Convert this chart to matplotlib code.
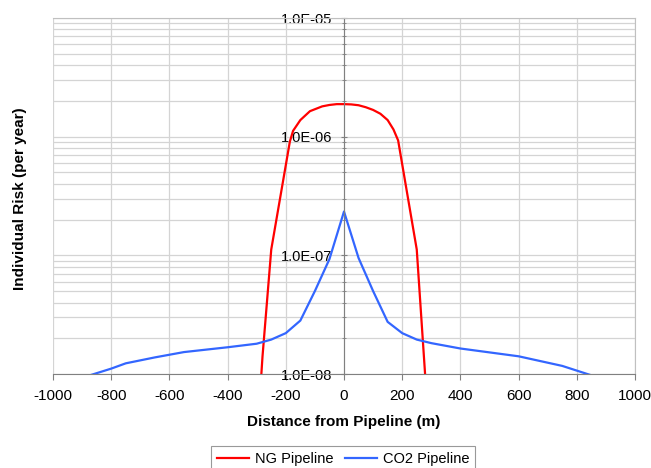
import numpy as np
import matplotlib
matplotlib.use("Agg")
from matplotlib import pyplot as plt
from matplotlib.ticker import LogLocator, FuncFormatter, NullFormatter, MultipleLocator

plt.rcParams['font.family'] = ['Liberation Sans', 'DejaVu Sans']
plt.rcParams['axes.unicode_minus'] = False

# NG pipeline risk profile (per year) vs distance (m)
ng_x = [-300, -280, -250, -186, -175, -150, -117, -75, -50, -25, 0,
        25, 50, 75, 100, 125, 150, 170, 186, 250, 280, 300]
ng_risk = [2.5e-9, 1.41e-8, 1.12e-7, 9.1e-7, 1.12e-6, 1.38e-6, 1.64e-6,
           1.80e-6, 1.85e-6, 1.88e-6, 1.88e-6,
           1.87e-6, 1.84e-6, 1.77e-6, 1.68e-6, 1.56e-6, 1.38e-6, 1.15e-6, 9.3e-7,
           1.12e-7, 8.9e-9, 2.5e-9]

# CO2 pipeline risk profile
co2_x = [-900, -800, -750, -650, -550, -400, -300, -250, -200, -150, -100, -50, 0,
         50, 100, 150, 200, 250, 300, 400, 600, 750, 900]
co2_risk = [9.3e-9, 1.11e-8, 1.23e-8, 1.38e-8, 1.53e-8, 1.68e-8, 1.80e-8, 1.95e-8, 2.21e-8,
            2.82e-8, 5.0e-8, 9.3e-8, 2.34e-7,
            9.5e-8, 5.0e-8, 2.75e-8, 2.21e-8, 1.95e-8, 1.82e-8, 1.64e-8, 1.41e-8, 1.17e-8, 8.9e-9]

fig = plt.figure(figsize=(6.51, 4.68), dpi=100)
ax = fig.add_axes([53/651, 1-374/468, (635-53)/651, (374-18)/468])

ax.plot(ng_x, ng_risk, color='#ff0000', lw=1.6, label='NG Pipeline')
ax.plot(co2_x, co2_risk, color='#3366ff', lw=1.6, label='CO2 Pipeline')

ax.set_yscale('log')
ax.set_xlim(-1000, 1000)
ax.set_ylim(1e-8, 1e-5)

ax.xaxis.set_major_locator(MultipleLocator(200))
ax.yaxis.set_major_locator(LogLocator(base=10))
ax.yaxis.set_minor_locator(LogLocator(base=10, subs=np.arange(2, 10)))
ax.yaxis.set_major_formatter(FuncFormatter(lambda v, p: f"{v:.1E}"))
ax.yaxis.set_minor_formatter(NullFormatter())

ax.grid(True, which='both', axis='y', color='#d4d4d4', lw=0.9)
ax.grid(True, which='major', axis='x', color='#d4d4d4', lw=0.9)
ax.set_axisbelow(True)

ax.spines['left'].set_position(('data', 0))
ax.spines['left'].set_color('#808080')
ax.spines['bottom'].set_color('#808080')
for s in ['top', 'right']:
    ax.spines[s].set_color('#c0c0c0')

ax.tick_params(axis='y', which='major', direction='inout', length=5, color='#808080',
               labelsize=10.5, pad=6)
ax.tick_params(axis='y', which='minor', direction='inout', length=3, color='#808080')
ax.tick_params(axis='x', direction='out', length=4, color='#808080', labelsize=11, pad=7)

fig.text(20/651, 1-199/468, 'Individual Risk (per year)', rotation=90, ha='center',
         va='center', fontsize=11, fontweight='bold')
fig.text(344/651, 1-422/468, 'Distance from Pipeline (m)', ha='center', va='center',
         fontsize=11, fontweight='bold')

leg = fig.legend(loc='upper center', bbox_to_anchor=(343/651, 1-446/468), ncol=2,
                 fontsize=10.5, frameon=True, fancybox=False, handlelength=2.2,
                 columnspacing=0.8, handletextpad=0.4, borderaxespad=0)
leg.get_frame().set_edgecolor('#808080')
leg.get_frame().set_linewidth(0.8)

fig.savefig('out.png', dpi=100)
